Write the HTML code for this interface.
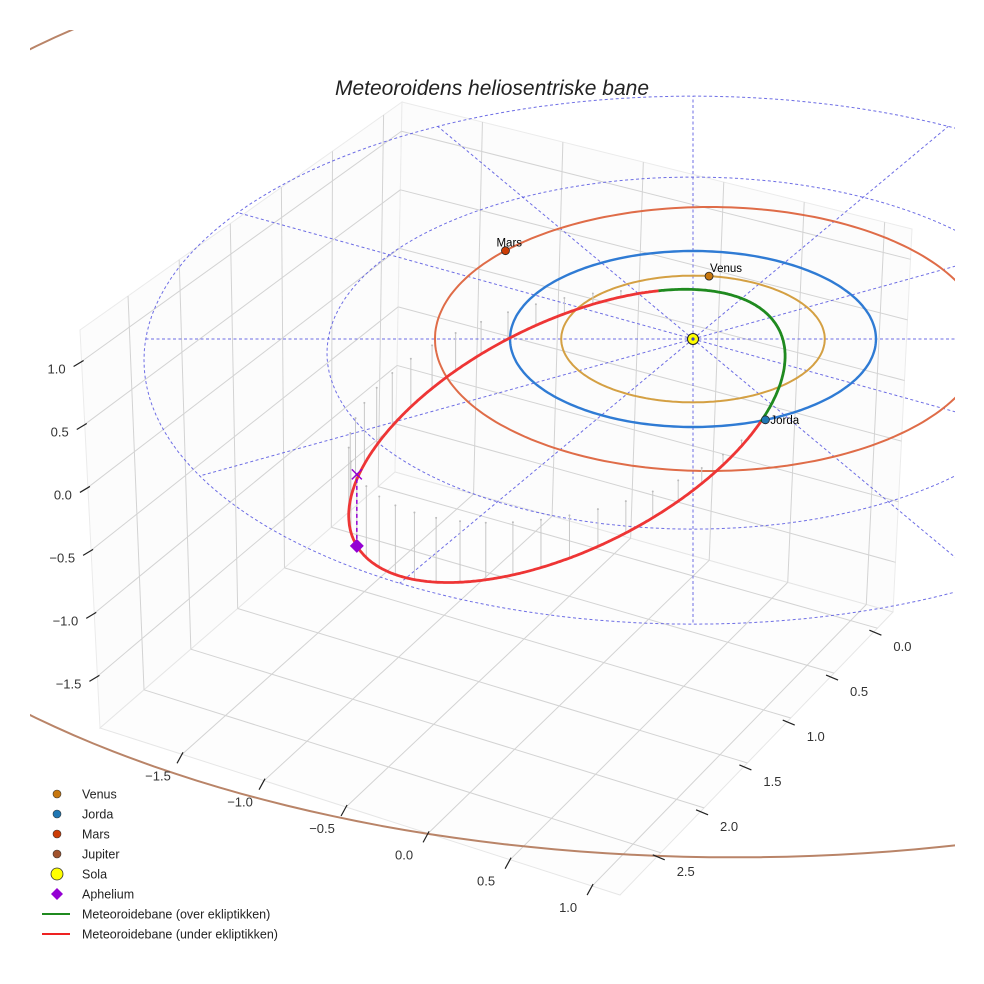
<!DOCTYPE html>
<html><head><meta charset="utf-8">
<style>
html,body{margin:0;padding:0;background:#fff;}
svg{display:block;font-family:"Liberation Sans",sans-serif;}
</style></head>
<body>
<svg id="chart" width="984" height="984" viewBox="0 0 984 984" xmlns="http://www.w3.org/2000/svg">
<defs><clipPath id="clip"><rect x="30" y="30" width="925" height="900"/></clipPath></defs>
<text x="492" y="95" text-anchor="middle" font-size="21" font-style="italic" fill="#222">Meteoroidens heliosentriske bane</text>
<g id="box"></g>
<g id="plot" clip-path="url(#clip)"></g>
<g id="ticks"></g>
<g id="legend"></g>
</svg>
<script>
// ---- data ----
const planetNames = ["Venus", "Jorda", "Mars", "Jupiter"];
const orbitRadii = [0.72, 1.0, 1.5, 5.4];
const orbitCenterU = [0, 0, 0.09, 0.23];
const orbitCenterV = [0, 0, 0, 0.49];
const planetAnglesDeg = [-83, 66.7, -138, null];
const gridRings = [1, 2, 3];
const gridRingCenterV = [0, 0.16, 0.24];
const gridRadialAnglesDeg = [0, 30, 60, 90, 120, 150, 180, 210, 240, 270, 300, 330];
// meteoroid orbit as 3D ellipse: centre + two conjugate semi-axis vectors (AU), t=0 is aphelion
const meteoroidCenter = [-0.689, 0.769, -0.225];
const meteoroidAxisA = [-1.148, 0.769, -0.325];
const meteoroidAxisB = [-0.322, -1.073, 0.0198];
const xTicks = [0.0, 0.5, 1.0, 1.5, 2.0, 2.5];
const yTicks = [-1.5, -1.0, -0.5, 0.0, 0.5, 1.0];
const zTicks = [-1.5, -1.0, -0.5, 0.0, 0.5, 1.0];

const NS = "http://www.w3.org/2000/svg";
function mk(tag, attrs, parent) {
  const e = document.createElementNS(NS, tag);
  for (const k in attrs) e.setAttribute(k, attrs[k]);
  parent.appendChild(e);
  return e;
}
const CX = 693, CY = 339, SU = 183, SV = 88, SZ = 130;
function P(u, v, z) { return [CX + SU * u, CY + SV * v - SZ * (z || 0)]; }
function pathFrom(pts) { return pts.map((p, i) => (i ? "L" : "M") + p[0].toFixed(1) + " " + p[1].toFixed(1)).join(" "); }

// ---- axes box ----
const box = document.getElementById("box");
const xmin = -0.18, xmax = 2.97, ymin = -2.0, ymax = 1.17, zmin = -1.91, zmax = 1.25;
const F = [620, 895], L = [100, 728], B = [395, 472], R = [893, 612];
const TL = [80, 330], TB = [402, 102], TR = [912, 229];
function lerp(a, b, t) { return [a[0] + (b[0] - a[0]) * t, a[1] + (b[1] - a[1]) * t]; }
function line(a, b, parent, stroke, w) { return mk("line", { x1: a[0], y1: a[1], x2: b[0], y2: b[1], stroke: stroke, "stroke-width": w }, parent); }
mk("polygon", { points: [L, B, TB, TL].map(p => p.join(",")).join(" "), fill: "#fcfcfc", stroke: "#ebebeb" }, box);
mk("polygon", { points: [B, R, TR, TB].map(p => p.join(",")).join(" "), fill: "#fcfcfc", stroke: "#ebebeb" }, box);
mk("polygon", { points: [L, F, R, B].map(p => p.join(",")).join(" "), fill: "#fdfdfd", stroke: "#e6e6e6" }, box);
const gridC = "#d3d3d3";
xTicks.forEach(x => {
  const t = (xmax - x) / (xmax - xmin);
  const g = line(lerp(L, B, t), lerp(F, R, t), box, gridC, 1);
  
  
  const w = line(lerp(L, B, t), lerp(TL, TB, t), box, gridC, 1);
  
  
});
yTicks.forEach(y => {
  const s = (y - ymin) / (ymax - ymin);
  const g = line(lerp(L, F, s), lerp(B, R, s), box, gridC, 1);
  
  
  const w = line(lerp(B, R, s), lerp(TB, TR, s), box, gridC, 1);
  
  
});
zTicks.forEach(z => {
  const t = (z - zmin) / (zmax - zmin);
  const a = lerp(L, TL, t), b = lerp(B, TB, t), c = lerp(R, TR, t);
  const g1 = line(a, b, box, gridC, 1);
  
  
  const g2 = line(b, c, box, gridC, 1);
  
  
});

// ---- plot ----
const plot = document.getElementById("plot");
gridRings.forEach((r, i) => {
  const pts = [];
  for (let k = 0; k <= 180; k++) { const a = k / 180 * 2 * Math.PI; pts.push(P(r * Math.cos(a), gridRingCenterV[i] + r * Math.sin(a), 0)); }
  const e = mk("path", { d: pathFrom(pts), fill: "none", stroke: "#5555e0", "stroke-width": 1, "stroke-dasharray": "3,2.5", opacity: 0.85 }, plot);
  
  
});
gridRadialAnglesDeg.forEach(d => {
  const a = d * Math.PI / 180, n = gridRings.length - 1, R3 = gridRings[n], c = gridRingCenterV[n];
  const sa = Math.sin(a);
  const t = c * sa + Math.sqrt(c * c * sa * sa - c * c + R3 * R3);
  const e = line(P(0, 0, 0), P(t * Math.cos(a), t * sa, 0), plot, "#5555e0", 1);
  e.setAttribute("stroke-dasharray", "3,2.5");
  e.setAttribute("opacity", "0.85");
  
  
});
const orbitColors = ["#d4a043", "#2f7bd4", "#df6c48", "#b98468"];
const dotColors = ["#c7770f", "#1f77b4", "#cc3d06", "#a0522d"];
planetNames.forEach((n, i) => {
  const pts = [];
  for (let k = 0; k <= 240; k++) { const a = k / 240 * 2 * Math.PI; pts.push(P(orbitCenterU[i] + orbitRadii[i] * Math.cos(a), orbitCenterV[i] + orbitRadii[i] * Math.sin(a), 0)); }
  const e = mk("path", { d: pathFrom(pts), fill: "none", stroke: orbitColors[i], "stroke-width": i === 1 ? 2.4 : 2 }, plot);
  
  
});
function orbitPt(t) {
  const c = Math.cos(t), s = Math.sin(t);
  return [0, 1, 2].map(k => meteoroidCenter[k] + meteoroidAxisA[k] * c + meteoroidAxisB[k] * s);
}
for (let k = 0; k < 48; k++) {
  const q = orbitPt(k / 48 * 2 * Math.PI);
  if (q[2] < -0.03) {
    const a = P(q[0], q[1], q[2]), b = P(q[0], q[1], 0);
    const s = line(a, b, plot, "#c8c8c8", 1);
    
    
    const d = mk("circle", { cx: b[0], cy: b[1], r: 1, fill: "#bbb" }, plot);
    
    
  }
}
let seg = [], segs = [], prevAbove = null;
for (let k = 0; k <= 720; k++) {
  const q = orbitPt(k / 720 * 2 * Math.PI), above = q[2] >= 0, pp = P(q[0], q[1], q[2]);
  if (prevAbove !== null && above !== prevAbove) { seg.push(pp); segs.push([prevAbove, seg]); seg = []; }
  seg.push(pp); prevAbove = above;
}
segs.push([prevAbove, seg]);
segs.forEach(s => {
  const e = mk("path", { d: pathFrom(s[1]), fill: "none", stroke: s[0] ? "#1f8a1f" : "#ee3535", "stroke-width": 2.8, "stroke-linejoin": "round" }, plot);
  
  
});
const ap = orbitPt(0), apS = P(ap[0], ap[1], ap[2]), apE = P(ap[0], ap[1], 0);
const apl = line(apS, apE, plot, "#9400d3", 1.5);
apl.setAttribute("stroke-dasharray", "4,3");


const apx = mk("path", { d: `M${apE[0]-5} ${apE[1]-5}L${apE[0]+5} ${apE[1]+5}M${apE[0]-5} ${apE[1]+5}L${apE[0]+5} ${apE[1]-5}`, stroke: "#9400d3", "stroke-width": 1.5 }, plot);


const apd = mk("polygon", { points: `${apS[0]},${apS[1]-7} ${apS[0]+7},${apS[1]} ${apS[0]},${apS[1]+7} ${apS[0]-7},${apS[1]}`, fill: "#9400d3" }, plot);


planetNames.forEach((n, i) => {
  if (planetAnglesDeg[i] === null) return;
  const a = planetAnglesDeg[i] * Math.PI / 180;
  const p = P(orbitCenterU[i] + orbitRadii[i] * Math.cos(a), orbitCenterV[i] + orbitRadii[i] * Math.sin(a), 0);
  const c = mk("circle", { cx: p[0], cy: p[1], r: 4, fill: dotColors[i], stroke: "#222", "stroke-width": 0.8 }, plot);
  
  
  const lx = i === 2 ? p[0] - 9 : (i === 1 ? p[0] + 5 : p[0] + 1);
  const t = mk("text", { x: lx, y: i === 1 ? p[1] + 4 : p[1] - 4, "font-size": 11.5, fill: "#000" }, plot);
  t.textContent = n;
  
  
});
const sp = P(0, 0, 0);
const sun = mk("circle", { cx: sp[0], cy: sp[1], r: 5.5, fill: "#ffff00", stroke: "#222", "stroke-width": 1 }, plot);


const sd = mk("circle", { cx: sp[0], cy: sp[1], r: 1.6, fill: "#4040c0" }, plot);



// ---- ticks ----
const tk = document.getElementById("ticks");
function fmt(v) { return (v < 0 ? "\u2212" : "") + Math.abs(v).toFixed(1); }
zTicks.forEach(z => {
  const p = lerp(L, TL, (z - zmin) / (zmax - zmin));
  const m = line([p[0] + 2, p[1] - 1], [p[0] - 8, p[1] + 5], tk, "#222", 1.2);
  
  
  const t = mk("text", { x: p[0] - 16, y: p[1] + 12, "text-anchor": "end", "font-size": 13, fill: "#333" }, tk);
  t.textContent = fmt(z);
  
  
});
yTicks.forEach(y => {
  const p = lerp(L, F, (y - ymin) / (ymax - ymin));
  const m = line([p[0] + 1, p[1] - 2], [p[0] - 5, p[1] + 9], tk, "#222", 1.2);
  
  
  const t = mk("text", { x: p[0] - 24, y: p[1] + 26, "text-anchor": "middle", "font-size": 13, fill: "#333" }, tk);
  t.textContent = fmt(y);
  
  
});
xTicks.forEach(x => {
  const p = lerp(R, F, (x - xmin) / (xmax - xmin));
  const m = line([p[0] - 8, p[1] + 2], [p[0] + 4, p[1] + 7], tk, "#222", 1.2);
  
  
  const t = mk("text", { x: p[0] + 25, y: p[1] + 23, "text-anchor": "middle", "font-size": 13, fill: "#333" }, tk);
  t.textContent = fmt(x);
  
  
});

// ---- legend ----
const lg = document.getElementById("legend");
const legendLabels = ["Venus", "Jorda", "Mars", "Jupiter", "Sola", "Aphelium", "Meteoroidebane (over ekliptikken)", "Meteoroidebane (under ekliptikken)"];
const legendKinds = ["dot", "dot", "dot", "dot", "sun", "diamond", "line", "line"];
const legendColors = ["#c7770f", "#1f77b4", "#cc3d06", "#a0522d", "#ffff00", "#9400d3", "#1f8a1f", "#ee2222"];
legendLabels.forEach((lab, i) => {
  const y = 794 + i * 20, x = 57;
  let m;
  if (legendKinds[i] === "dot") m = mk("circle", { cx: x, cy: y, r: 4, fill: legendColors[i], stroke: "#333", "stroke-width": 0.6 }, lg);
  else if (legendKinds[i] === "sun") m = mk("circle", { cx: x, cy: y, r: 6, fill: legendColors[i], stroke: "#333", "stroke-width": 0.8 }, lg);
  else if (legendKinds[i] === "diamond") m = mk("polygon", { points: `${x},${y-6} ${x+6},${y} ${x},${y+6} ${x-6},${y}`, fill: legendColors[i] }, lg);
  else m = line([x - 15, y], [x + 13, y], lg, legendColors[i], 2);
  
  
  const t = mk("text", { x: 82, y: y + 4.5, "font-size": 12.5, fill: "#222" }, lg);
  t.textContent = lab;
  
  
});
</script>
</body></html>
